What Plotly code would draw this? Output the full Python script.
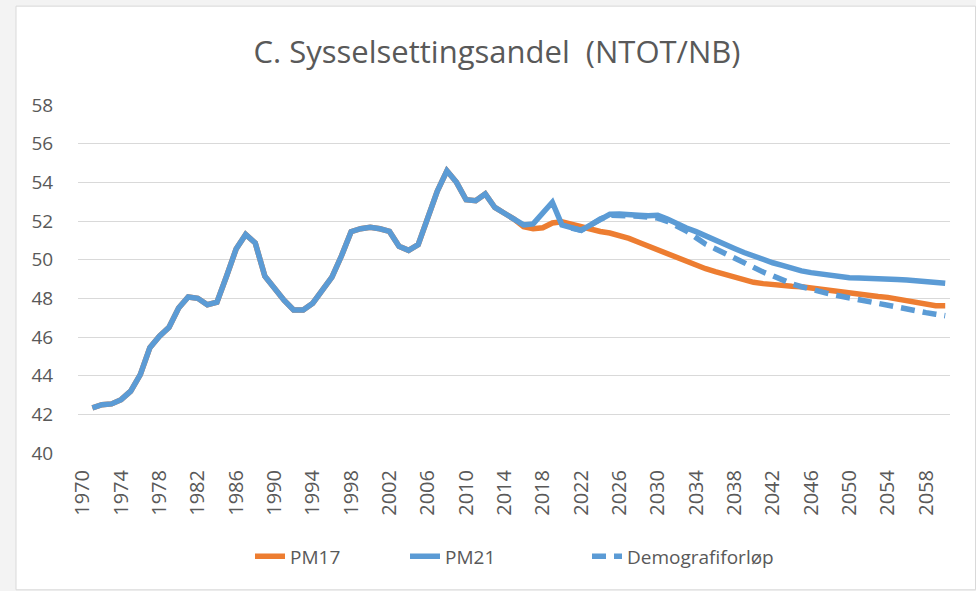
import plotly.graph_objects as go

years = list(range(1971, 2061))

pm21 = [42.34, 42.5, 42.54, 42.76, 43.2, 44.05, 45.45, 46.04, 46.5, 47.5,   # 1971-1980
        48.07, 48.0, 47.67, 47.8, 49.14, 50.55, 51.3, 50.86, 49.14, 48.5,   # 1981-1990
        47.9, 47.4, 47.4, 47.75, 48.4, 49.1, 50.2, 51.45, 51.6, 51.67,      # 1991-2000
        51.6, 51.46, 50.69, 50.48, 50.78, 52.2, 53.55, 54.6, 54.0, 53.1,    # 2001-2010
        53.05, 53.4, 52.7, 52.4, 52.1, 51.8, 51.85, 52.4, 52.97, 51.8,      # 2011-2020
        51.64, 51.52, 51.8, 52.1, 52.35, 52.36, 52.36, 52.3, 52.27, 52.3,   # 2021-2030
        52.1, 51.85, 51.64, 51.45, 51.25, 51.0, 50.8, 50.58, 50.37, 50.18,  # 2031-2040
        50.0, 49.84, 49.7, 49.55, 49.42, 49.33, 49.25, 49.18, 49.12, 49.07, # 2041-2050
        49.05, 49.05, 49.03, 49.02, 48.98, 48.95, 48.92, 48.87, 48.8, 48.78]  # 2051-2060

pm17 = pm21[:43] + [                                                     # 1971-2013 same as PM21
        52.4, 52.1, 51.7, 51.6, 51.65, 51.9, 51.96, 51.83,                 # 2014-2021
        51.68, 51.55, 51.46, 51.38, 51.25, 51.1, 50.9, 50.7, 50.5,         # 2022-2030
        50.3, 50.1, 49.92, 49.72, 49.53, 49.38, 49.24, 49.1, 48.96, 48.83, # 2031-2040
        48.76, 48.7, 48.66, 48.63, 48.6, 48.53, 48.48, 48.41, 48.34, 48.27,# 2041-2050
        48.2, 48.15, 48.1, 48.05, 47.96, 47.87, 47.78, 47.68, 47.62, 47.62]# 2051-2060

demo_years = list(range(2021, 2061))
demo = [51.64, 51.52, 51.8, 52.1, 52.3, 52.3, 52.3, 52.25, 52.2, 52.15,   # 2021-2030
        51.98, 51.75, 51.48, 51.14, 50.8, 50.57, 50.32, 50.06, 49.81, 49.57,# 2031-2040
        49.36, 49.17, 48.94, 48.75, 48.6, 48.46, 48.32, 48.22, 48.12, 48.02,# 2041-2050
        47.9, 47.8, 47.73, 47.65, 47.55, 47.45, 47.35, 47.26, 47.18, 47.1]  # 2051-2060

tick_years = list(range(1970, 2060, 4))
y_ticks = list(range(40, 59, 2))

ORANGE = "#ED7D31"
BLUE = "#5B9BD5"
TXT = "#595959"
GRID = "#D9D9D9"
FONT = "Open Sans"

fig = go.Figure()
fig.add_trace(go.Scatter(x=years, y=pm17, mode="lines", name="PM17", legend="legend",
                         line=dict(color=ORANGE, width=5.5)))
fig.add_trace(go.Scatter(x=years, y=pm21, mode="lines", name="PM21", legend="legend2",
                         line=dict(color=BLUE, width=5.5)))
fig.add_trace(go.Scatter(x=demo_years, y=demo, mode="lines", name="Demografiforløp",
                         legend="legend3",
                         line=dict(color=BLUE, width=5.5, dash="14px,8px")))

# plot area: x 78..950 px, y 105..453.5 px
L, R, T, B = 78, 950, 105, 453.5
W, H = R - L, B - T

def fx(px):
    return (px - L) / W

def fy(py):
    return (B - py) / H

fig.add_shape(type="rect", xref="paper", yref="paper",
              x0=fx(16), x1=fx(975.5), y0=fy(590.5), y1=fy(6),
              fillcolor="white", line=dict(color="#D9D9D9", width=1), layer="below")

def leg(px):
    return dict(orientation="h", xanchor="left", x=fx(px), yanchor="middle", y=fy(557),
                font=dict(size=19, color=TXT), bgcolor="rgba(0,0,0,0)")

fig.update_layout(
    width=976, height=591,
    margin=dict(l=L, r=976 - R, t=T, b=591 - B, autoexpand=False),
    paper_bgcolor="#F3F3F3",
    plot_bgcolor="rgba(0,0,0,0)",
    font=dict(family=FONT, color=TXT),
    title=dict(text="C. Sysselsettingsandel  (NTOT/NB)", xref="container", x=497 / 976,
               xanchor="center", yref="container", y=1 - 52 / 591, yanchor="middle",
               font=dict(size=31, color=TXT, family=FONT)),
    showlegend=True,
    legend=leg(250),
    legend2=leg(405),
    legend3=leg(587),
    xaxis=dict(range=[1969.5, 2060.5], tickvals=tick_years, ticktext=[str(t) for t in tick_years],
               tickangle=-90, showgrid=False, zeroline=False, showline=False, automargin=False,
               ticks="outside", ticklen=8, tickcolor="rgba(0,0,0,0)",
               tickfont=dict(size=20, color=TXT)),
    yaxis=dict(range=[40, 58], tickvals=y_ticks, showgrid=True, gridcolor=GRID, gridwidth=1,
               zeroline=False, showline=False, ticks="outside", ticklen=20, automargin=False,
               tickcolor="rgba(0,0,0,0)", tickfont=dict(size=19, color=TXT)),
)

fig.write_html("out.html", config={"displayModeBar": False},
               post_script="document.body.style.margin='0px';")
